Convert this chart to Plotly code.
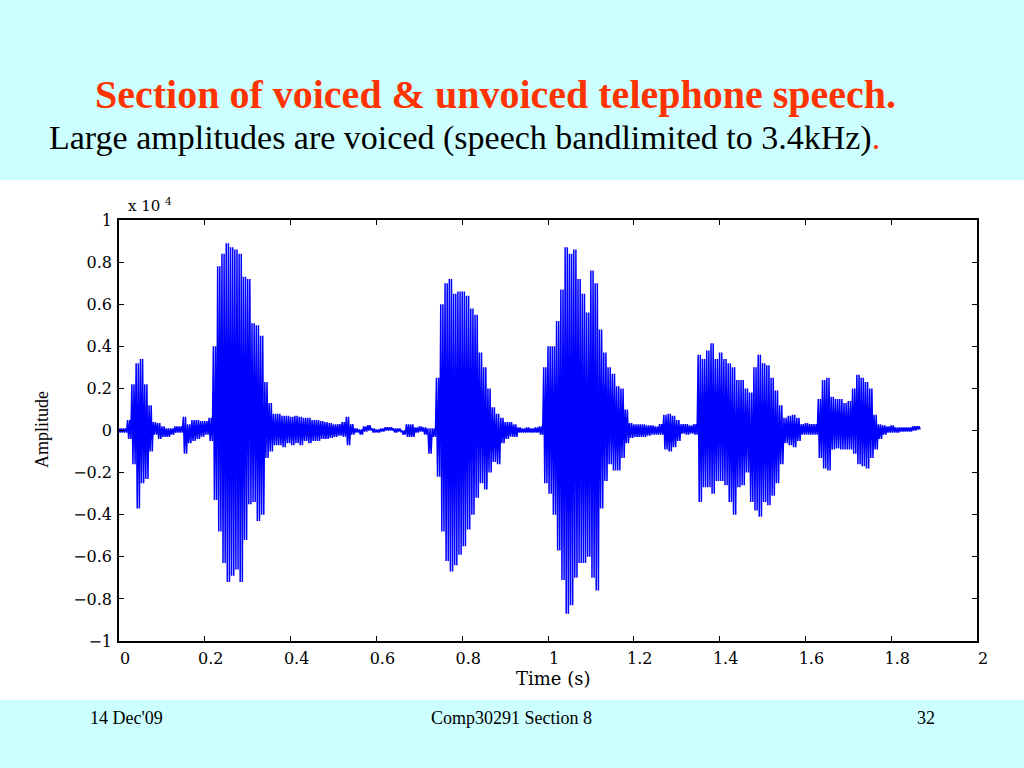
import plotly.graph_objects as go

# ---------------- data (amplitude in units of 1e4, read per 10 ms bucket) -------------
bucket_step_s = 0.01
upper_env = [
    0.01, 0.01, 0.05, 0.22, 0.32, 0.34, 0.22, 0.12, 0.04, 0.035,
    0.02, 0.01, 0.01, 0.02, 0.02, 0.065, 0.03, 0.05, 0.05, 0.045,
    0.045, 0.06, 0.40, 0.78, 0.84, 0.89, 0.87, 0.86, 0.84, 0.73,
    0.72, 0.51, 0.50, 0.45, 0.23, 0.13, 0.08, 0.08, 0.07, 0.07,
    0.065, 0.07, 0.065, 0.06, 0.06, 0.05, 0.05, 0.045, 0.04, 0.035,
    0.03, 0.03, 0.04, 0.065, 0.03, 0.01, 0.005, 0.02, 0.025, 0.01,
    0.005, 0.01, 0.015, 0.015, 0.01, 0.01, 0.0, 0.03, 0.03, 0.015,
    0.02, 0.015, 0.01, 0.01, 0.25, 0.60, 0.70, 0.72, 0.65, 0.66,
    0.66, 0.64, 0.58, 0.55, 0.37, 0.30, 0.20, 0.11, 0.08, 0.06,
    0.04, 0.04, 0.03, 0.015, 0.01, 0.015, 0.01, 0.015, 0.02, 0.30,
    0.40, 0.40, 0.52, 0.67, 0.87, 0.84, 0.86, 0.72, 0.65, 0.56,
    0.76, 0.70, 0.48, 0.37, 0.30, 0.27, 0.21, 0.20, 0.10, 0.035,
    0.03, 0.03, 0.03, 0.025, 0.025, 0.02, 0.03, 0.075, 0.08, 0.07,
    0.05, 0.03, 0.03, 0.025, 0.03, 0.36, 0.34, 0.38, 0.415, 0.34,
    0.37, 0.34, 0.32, 0.30, 0.24, 0.24, 0.20, 0.18, 0.30, 0.36,
    0.32, 0.31, 0.25, 0.19, 0.12, 0.06, 0.07, 0.075, 0.06, 0.03,
    0.035, 0.03, 0.03, 0.15, 0.24, 0.25, 0.16, 0.15, 0.15, 0.13,
    0.14, 0.20, 0.265, 0.25, 0.23, 0.20, 0.075, 0.03, 0.025, 0.02,
    0.025, 0.015, 0.015, 0.015, 0.015, 0.02, 0.02,
]
lower_env = [
    -0.01, -0.01, -0.04, -0.16, -0.37, -0.25, -0.23, -0.10, -0.02, -0.04,
    -0.03, -0.03, -0.02, -0.01, -0.01, -0.11, -0.06, -0.05, -0.04, -0.03,
    -0.02, -0.05, -0.33, -0.48, -0.63, -0.72, -0.69, -0.66, -0.72, -0.52,
    -0.35, -0.34, -0.43, -0.40, -0.13, -0.10, -0.07, -0.07, -0.08, -0.06,
    -0.07, -0.06, -0.07, -0.05, -0.06, -0.05, -0.05, -0.04, -0.04, -0.035,
    -0.03, -0.025, -0.03, -0.07, -0.02, -0.01, -0.02, -0.005, 0.0, -0.01,
    -0.01, -0.005, 0.0, 0.0, -0.01, -0.005, -0.02, -0.03, -0.03, -0.01,
    -0.005, -0.02, -0.11, -0.03, -0.22, -0.48, -0.62, -0.67, -0.64, -0.59,
    -0.55, -0.47, -0.40, -0.32, -0.25, -0.28, -0.20, -0.15, -0.16, -0.06,
    -0.04, -0.03, -0.03, -0.01, -0.01, -0.01, -0.01, -0.01, -0.02, -0.25,
    -0.30, -0.40, -0.57, -0.71, -0.87, -0.83, -0.70, -0.63, -0.63, -0.60,
    -0.70, -0.76, -0.37, -0.24, -0.16, -0.19, -0.19, -0.13, -0.06, -0.035,
    -0.03, -0.03, -0.03, -0.025, -0.02, -0.02, -0.02, -0.09, -0.10, -0.08,
    -0.05, -0.015, -0.02, -0.015, -0.02, -0.34, -0.27, -0.27, -0.30, -0.24,
    -0.24, -0.26, -0.34, -0.40, -0.27, -0.26, -0.20, -0.34, -0.38, -0.41,
    -0.34, -0.355, -0.31, -0.25, -0.16, -0.06, -0.07, -0.08, -0.05, -0.02,
    -0.02, -0.02, -0.02, -0.13, -0.18, -0.19, -0.09, -0.085, -0.09, -0.09,
    -0.09, -0.11, -0.16, -0.17, -0.18, -0.13, -0.09, -0.04, -0.02, -0.01,
    -0.01, -0.01, -0.005, -0.005, -0.005, 0.0, 0.005,
]
x_tick_vals = [0, 0.2, 0.4, 0.6, 0.8, 1, 1.2, 1.4, 1.6, 1.8, 2]
x_tick_text = ["0", "0.2", "0.4", "0.6", "0.8", "1", "1.2", "1.4", "1.6", "1.8", "2"]
y_tick_vals = [-1, -0.8, -0.6, -0.4, -0.2, 0, 0.2, 0.4, 0.6, 0.8, 1]
y_tick_text = ["\u22121", "\u22120.8", "\u22120.6", "\u22120.4", "\u22120.2", "0",
               "0.2", "0.4", "0.6", "0.8", "1"]

# --------------- build waveform trace: each 10 ms bucket is drawn as strokes -------------
# swinging between its read upper and lower peak values
STROKES_PER_BUCKET = 4
xs, ys = [], []
for i, (u, l) in enumerate(zip(upper_env, lower_env)):
    t = i * bucket_step_s
    for k in range(STROKES_PER_BUCKET):
        xs.append(t + k * bucket_step_s / STROKES_PER_BUCKET)
        ys.append(u if k % 2 == 0 else l)

W, H = 1024, 768
L, R, T, B = 119, 47, 220, 127
pw, ph = W - L - R, H - T - B


def px(x):
    return (x - L) / pw


def py(y):
    return (H - B - y) / ph


CYAN = "#ccffff"
RED = "#ff3300"

fig = go.Figure()
fig.add_trace(go.Scatter(x=xs, y=ys, mode="lines",
                         line=dict(color="#0000ff", width=1.5),
                         hoverinfo="skip", showlegend=False))

axis_common = dict(showline=True, linecolor="black", linewidth=1.5, mirror="ticks",
                   ticks="inside", ticklen=5, tickwidth=1, tickcolor="black",
                   showgrid=False, zeroline=False,
                   tickfont=dict(family="DejaVu Serif", size=16, color="black"))

fig.update_layout(
    width=W, height=H, autosize=False,
    margin=dict(l=L, r=R, t=T, b=B),
    paper_bgcolor=CYAN, plot_bgcolor="white",
    xaxis=dict(range=[0, 2], tickvals=x_tick_vals, ticktext=x_tick_text,
               ticklabelshift=6, ticklabelstandoff=2, **axis_common),
    yaxis=dict(range=[-1, 1], tickvals=y_tick_vals, ticktext=y_tick_text,
               ticklabelstandoff=2, **axis_common),
    shapes=[dict(type="rect", xref="paper", yref="paper",
                 x0=px(-5), x1=px(W + 5), y0=py(700), y1=py(180),
                 fillcolor="white", line=dict(width=0), layer="below")],
)

ann = [
    dict(text="<b>Section of voiced &amp; unvoiced telephone speech.</b>",
         x=px(495.5), y=py(95), xanchor="center", yanchor="middle",
         font=dict(family="Liberation Serif", size=40, color=RED)),
    dict(text="Large amplitudes are voiced (speech bandlimited to 3.4kHz)"
              "<span style='color:%s'>.</span>" % RED,
         x=px(47), y=py(138), xanchor="left", yanchor="middle",
         font=dict(family="Liberation Serif", size=34, color="black")),
    dict(text="x 10 <sup>4</sup>", x=px(126), y=py(205), xanchor="left", yanchor="middle",
         font=dict(family="DejaVu Serif", size=15, color="black")),
    dict(text="Amplitude", x=px(42), y=py(430), xanchor="center", yanchor="middle",
         textangle=-90, font=dict(family="Liberation Serif", size=18, color="black")),
    dict(text="Time (s)", x=px(553), y=py(678), xanchor="center", yanchor="middle",
         font=dict(family="DejaVu Serif", size=18, color="black")),
    dict(text="14 Dec'09", x=px(126.5), y=py(718), xanchor="center", yanchor="middle",
         font=dict(family="Liberation Serif", size=18, color="black")),
    dict(text="Comp30291 Section 8", x=px(511), y=py(718), xanchor="center", yanchor="middle",
         font=dict(family="Liberation Serif", size=18, color="black")),
    dict(text="32", x=px(926), y=py(718), xanchor="center", yanchor="middle",
         font=dict(family="Liberation Serif", size=18, color="black")),
]
for a in ann:
    a.update(xref="paper", yref="paper", showarrow=False)
fig.update_layout(annotations=ann)

fig.write_html(
    "out.html",
    config={"displayModeBar": False},
    post_script="document.body.style.margin='0';document.body.style.padding='0';"
                "document.body.style.overflow='hidden';"
                "document.body.style.background='%s';" % CYAN,
)
